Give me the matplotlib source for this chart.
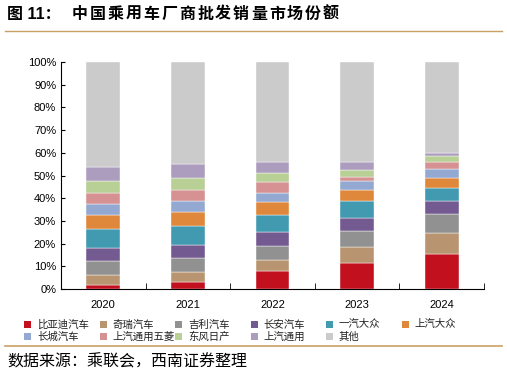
import matplotlib
matplotlib.use("Agg")
from matplotlib import pyplot as plt
from matplotlib.lines import Line2D
from matplotlib.patches import Rectangle
import numpy as np

plt.rcParams['font.family'] = ['Liberation Sans', 'Noto Sans CJK SC']

# data (市场份额 %)
years = ["2020", "2021", "2022", "2023", "2024"]
byd      = [1.8, 3.2, 7.8, 11.5, 15.4]
chery    = [4.2, 4.1, 5.1, 7.0, 9.4]
geely    = [6.3, 6.5, 6.2, 6.9, 8.1]
changan  = [5.8, 5.6, 5.9, 5.9, 5.9]
faw_vw   = [8.3, 8.4, 7.6, 7.3, 5.8]
saic_vw  = [6.1, 6.0, 5.7, 4.9, 4.3]
gwm      = [5.1, 5.0, 4.0, 3.9, 3.8]
sgmw     = [4.7, 4.7, 4.7, 1.9, 3.2]
dfn      = [5.3, 5.3, 4.0, 3.0, 2.5]
saic_gm  = [6.1, 6.1, 5.1, 3.8, 1.4]
others   = [46.3, 45.1, 43.9, 43.9, 40.2]

names = ["比亚迪汽车", "奇瑞汽车", "吉利汽车", "长安汽车", "一汽大众", "上汽大众",
         "长城汽车", "上汽通用五菱", "东风日产", "上汽通用", "其他"]
series = [byd, chery, geely, changan, faw_vw, saic_vw, gwm, sgmw, dfn, saic_gm, others]
colors = ["#C3101E", "#B89570", "#919191", "#735A91", "#419AB0", "#DF873B",
          "#93A9D2", "#D69292", "#B8CF96", "#AC9DBF", "#CBCBCB"]

W, H = 507, 377
fig = plt.figure(figsize=(W/100, H/100), dpi=100)
ax = fig.add_axes([61/W, 1-289/H, 423/W, 227/H])

x = np.arange(len(years))
bottom = np.zeros(len(years))
for vals, c, n in zip(series, colors, names):
    ax.bar(x, vals, 0.4, bottom=bottom, color=c, edgecolor="white", linewidth=0.3, label=n)
    bottom = bottom + np.array(vals)

ax.set_xlim(-0.5, 4.5)
ax.set_ylim(0, 100)
ax.set_yticks(np.arange(0, 101, 10))
ax.set_yticklabels([str(v) + "%" for v in range(0, 101, 10)], fontsize=8)
ax.set_xticks(x)
ax.set_xticklabels(years, fontsize=8)
ax.tick_params(axis="x", length=0, pad=8)
ax.set_xticks(np.arange(0.5, 5, 1), minor=True)
ax.tick_params(axis="x", which="minor", direction="in", length=4)
ax.tick_params(axis="y", direction="in", length=3)
ax.spines["top"].set_visible(False)
ax.spines["right"].set_visible(False)

# legend: fixed column grid, 6 per row
for i, (n, c) in enumerate(zip(names, colors)):
    row, col = divmod(i, 6)
    lx = 24 + col * 75.5
    ly = 324.5 + row * 12
    fig.add_artist(Rectangle((lx/W, 1-(ly+3.5)/H), 7/W, 7/H, color=c, lw=0))
    fig.text((lx+13)/W, 1-ly/H, n, fontsize=7.5, va="center", color="#222222")

# title / lines / source
fig.text(7/W, 1-14/H, "图 11：", fontsize=11.5, fontweight="bold", va="center")
title = "中国乘用车厂商批发销量市场份额"
for k, ch in enumerate(title):
    fig.text((72 + k*17.9)/W, 1-14/H, ch, fontsize=11.5, fontweight="bold", va="center")
fig.add_artist(Line2D([5/W, 502/W], [1-31/H, 1-31/H], color="#C9A063", lw=1))
fig.add_artist(Line2D([5/W, 502/W], [1-345.5/H, 1-345.5/H], color="#C9A063", lw=1.2))
fig.text(7/W, 1-362/H, "数据来源：乘联会，西南证券整理", fontsize=11.5, style="italic", va="center")

plt.savefig("out.png", dpi=100)
